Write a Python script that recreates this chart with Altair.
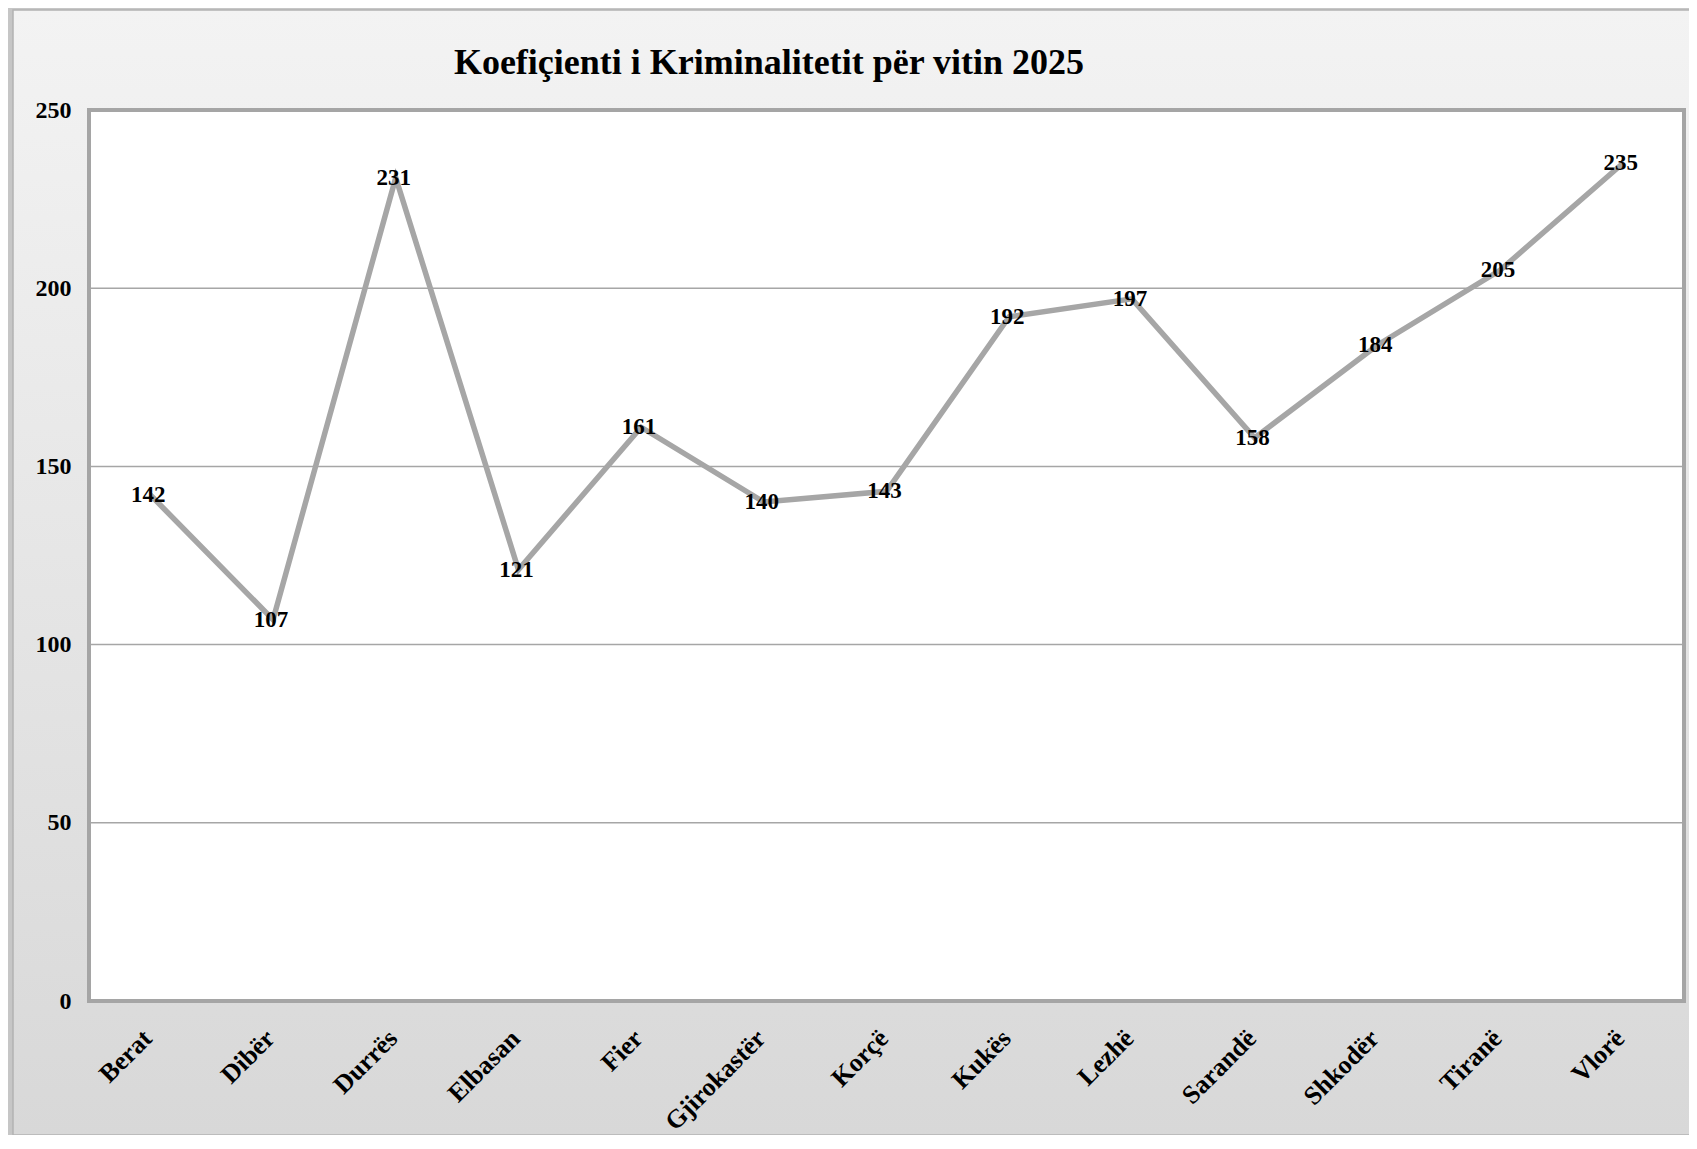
import altair as alt
import pandas as pd

# ---- data ----
categories = ["Berat", "Dibër", "Durrës", "Elbasan", "Fier", "Gjirokastër", "Korçë",
              "Kukës", "Lezhë", "Sarandë", "Shkodër", "Tiranë", "Vlorë"]
values = [142, 107, 231, 121, 161, 140, 143, 192, 197, 158, 184, 205, 235]
y_ticks = [0, 50, 100, 150, 200, 250]
TITLE = "Koefiçienti i Kriminalitetit për vitin 2025"

# ---- layout ----
W, H = 1595, 891
PAD = {"left": 81, "top": 102, "right": 5, "bottom": 134}
FONT = "Liberation Serif"

df = pd.DataFrame({"Qarku": categories, "Koeficienti": values})
grid_df = pd.DataFrame({"v": y_ticks})
one = alt.Data(values=[{}])

yscale = alt.Scale(domain=[0, 250], nice=False, zero=True)
xscale = alt.Scale(type="point", padding=0.5, domain=categories)

frame = alt.Chart(one).mark_rect(
    color=alt.LinearGradient(
        gradient="linear",
        stops=[alt.GradientStop(color="#f3f3f3", offset=0),
               alt.GradientStop(color="#d8d8d8", offset=1)],
        x1=0, x2=0, y1=0, y2=1),
    stroke="#b3b3b3", strokeWidth=1.5,
).encode(x=alt.value(-76), x2=alt.value(W + 30), y=alt.value(-100), y2=alt.value(H + PAD["bottom"]))

plot_bg = alt.Chart(one).mark_rect(fill="white").encode(
    x=alt.value(0), x2=alt.value(W), y=alt.value(0), y2=alt.value(H))

grid = alt.Chart(grid_df).mark_rule(color="#a6a6a6", strokeWidth=1.5).encode(
    y=alt.Y("v:Q", scale=yscale,
            axis=alt.Axis(values=y_ticks, grid=False, domain=False, ticks=False, zindex=2,
                          labelFont=FONT, labelFontSize=24, labelFontWeight="bold",
                          labelColor="black", labelPadding=18, title=None))
)

border = alt.Chart(one).mark_rect(fill=None, stroke="#a5a5a5", strokeWidth=4).encode(
    x=alt.value(0), x2=alt.value(W), y=alt.value(0), y2=alt.value(H))

base = alt.Chart(df).encode(
    x=alt.X("Qarku:N", sort=categories, scale=xscale,
            axis=alt.Axis(labelAngle=-45, labelAlign="right", labelBaseline="middle", zindex=2,
                          labelPadding=33, labelOffset=-3, domain=False, ticks=False,
                          grid=False, title=None,
                          labelFont=FONT, labelFontSize=26, labelFontWeight="bold",
                          labelColor="black")),
    y=alt.Y("Koeficienti:Q", scale=yscale),
)

line = base.mark_line(color="#a6a6a6", strokeWidth=5.5, strokeJoin="miter")
labels = base.mark_text(font=FONT, fontSize=23, fontWeight="bold", color="black",
                        align="center", baseline="middle", dx=-2).encode(text="Koeficienti:Q")

title = alt.Chart(one).mark_text(
    text=TITLE, font=FONT, fontSize=36, fontWeight="bold", color="black",
    align="center", baseline="alphabetic",
).encode(x=alt.value(680), y=alt.value(-36))

chart = alt.layer(frame, plot_bg, grid, border, line, labels, title).properties(
    width=W, height=H,
    autosize=alt.AutoSizeParams(type="none"),
    padding=PAD,
    background="#c6c6c6",
).configure_view(stroke=None)

chart.save("out.html", embed_options={"renderer": "svg", "actions": False})
